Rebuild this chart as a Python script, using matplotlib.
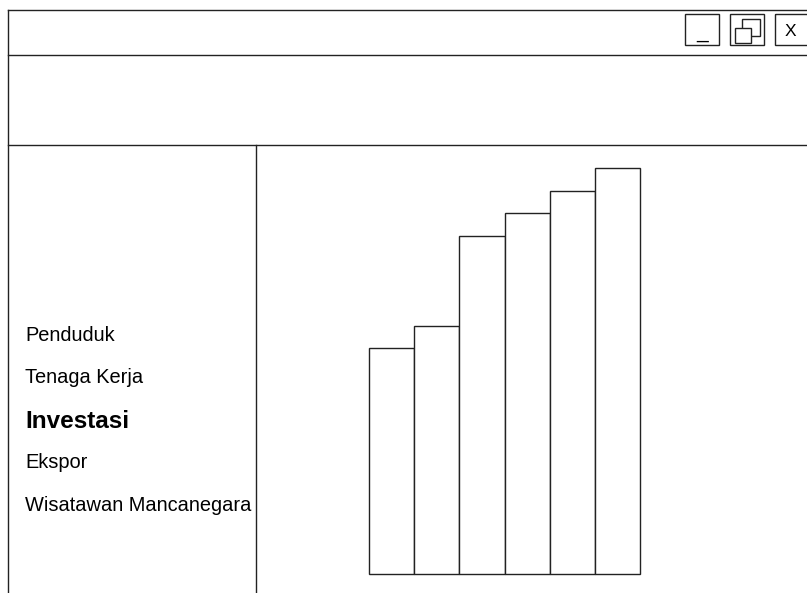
import matplotlib
matplotlib.use("Agg")
import matplotlib.pyplot as plt
from matplotlib.patches import Rectangle

# Data
menu_items = ["Penduduk", "Tenaga Kerja", "Investasi", "Ekspor", "Wisatawan Mancanegara"]
active_item = "Investasi"
bar_values = [10, 11, 15, 16, 17, 18]

W, H = 807, 593
DPI = 100
fig = plt.figure(figsize=(W / DPI, H / DPI), dpi=DPI)
fig.patch.set_facecolor("white")

# Frame axes in pixel coordinates
fr = fig.add_axes([0, 0, 1, 1])
fr.set_xlim(0, W)
fr.set_ylim(H, 0)
fr.axis("off")

lc = "#222222"
lw = 1.0
# Outer window frame
fr.plot([8, 8], [10, H], color=lc, lw=lw)
fr.plot([8, W], [10, 10], color=lc, lw=lw)
fr.plot([8, W], [55, 55], color=lc, lw=lw)
fr.plot([8, W], [145, 145], color=lc, lw=lw)
fr.plot([256, 256], [145, H], color=lc, lw=lw)

# Window buttons
for x0, x1 in [(685, 719), (730, 764), (775, 809)]:
    fr.add_patch(Rectangle((x0, 14), x1 - x0, 31, fill=False, ec=lc, lw=lw))
fr.text(702, 38, "_", ha="center", va="baseline", fontsize=15, family="Liberation Sans")
fr.add_patch(Rectangle((742, 19), 18, 17, fill=False, ec=lc, lw=lw))
fr.add_patch(Rectangle((735, 28), 16, 15, fc="white", ec=lc, lw=lw))
fr.text(790, 36, "X", ha="center", va="baseline", fontsize=12.5, family="Liberation Sans")

# Menu
baselines = [340.7, 383.3, 428.3, 468.3, 510.7]
for label, yb in zip(menu_items, baselines):
    bold = label == active_item
    fr.text(25, yb, label, ha="left", va="baseline",
            fontsize=17.5 if bold else 14.4,
            fontweight="bold" if bold else "normal",
            family="Liberation Sans", color="black")

# Bar chart
left_px, right_px, bottom_px, top_px = 369, 640, 574, 168
ax = fig.add_axes([left_px / W, (H - bottom_px) / H,
                   (right_px - left_px) / W, (bottom_px - top_px) / H])
ax.bar(range(len(bar_values)), bar_values, width=1.0, align="edge",
       color="white", edgecolor=lc, linewidth=lw)
ax.set_xlim(0, len(bar_values))
ax.set_ylim(0, max(bar_values))
ax.axis("off")
for a in ax.patches:
    a.set_clip_on(False)

fig.savefig("out.png", dpi=DPI, facecolor="white")
